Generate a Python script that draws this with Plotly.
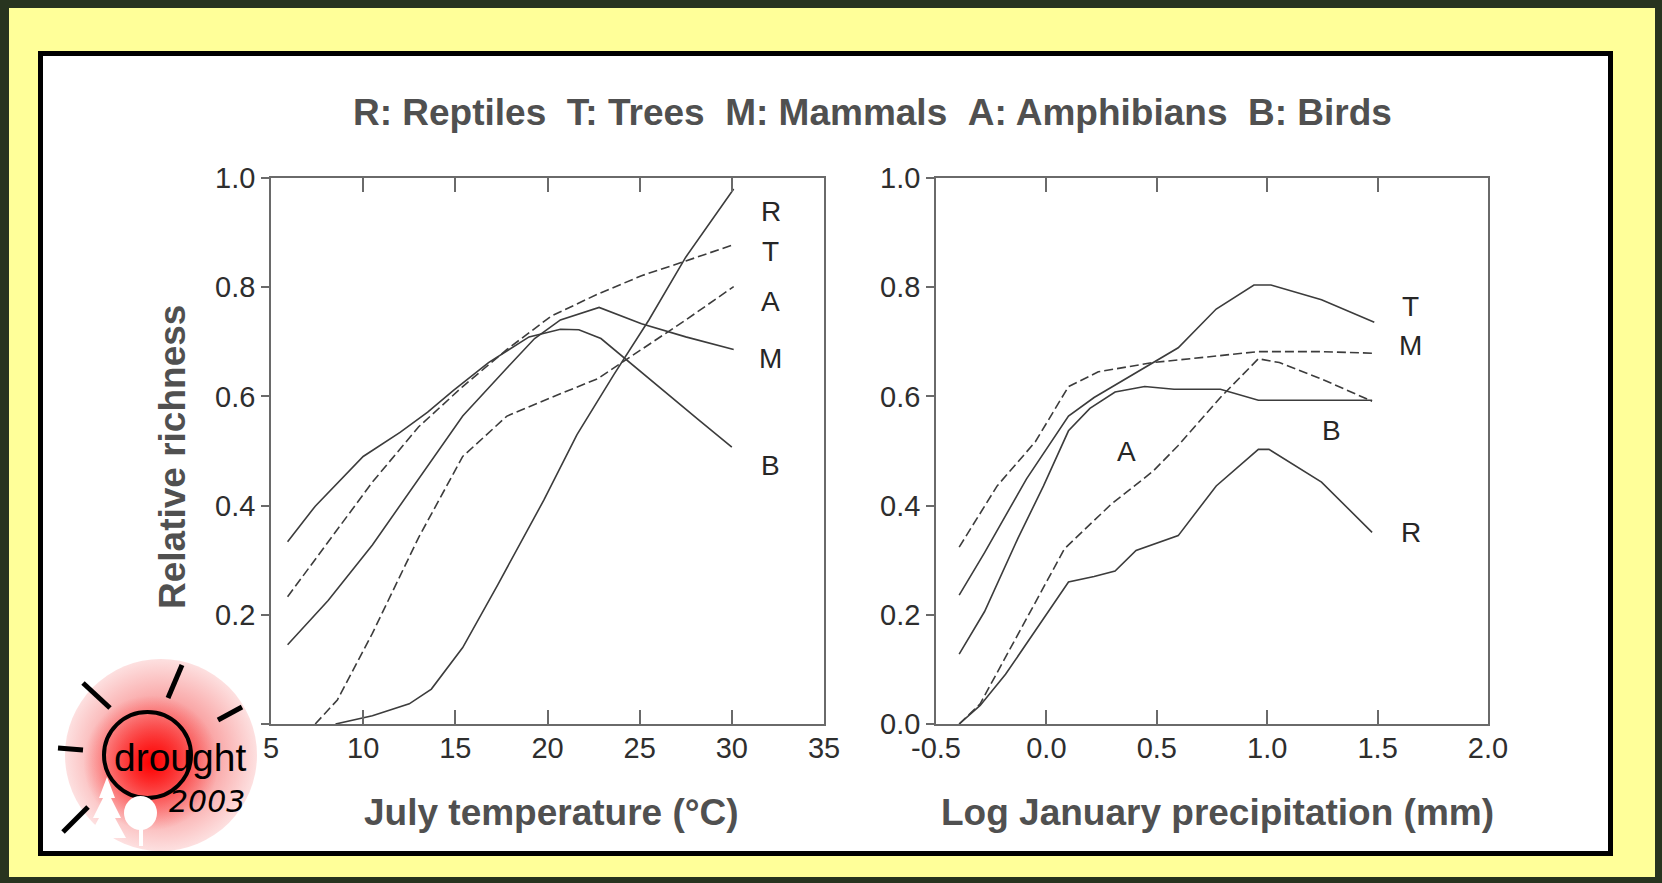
import plotly.graph_objects as go

W, H = 1662, 883

# ---------------- data: left panel (July temperature, °C) ----------------
temp_R_x = [8.5, 10.5, 12.5, 13.7, 15.4, 17.3, 19.8, 21.6, 23.6, 25.5, 27.5, 30.1]
temp_R_y = [0.0, 0.015, 0.037, 0.064, 0.14, 0.255, 0.41, 0.53, 0.64, 0.74, 0.855, 0.98]

temp_B_x = [5.9, 7.4, 10.0, 12.0, 13.5, 14.9, 16.8, 19.0, 20.7, 21.7, 22.9, 24.1, 26.3, 28.2, 30.0]
temp_B_y = [0.334, 0.399, 0.49, 0.534, 0.571, 0.611, 0.662, 0.709, 0.723, 0.722, 0.706, 0.672, 0.611, 0.557, 0.507]

temp_M_x = [5.9, 8.1, 10.5, 13.0, 15.4, 17.8, 19.3, 20.7, 22.8, 25.1, 27.5, 30.1]
temp_M_y = [0.145, 0.226, 0.328, 0.449, 0.564, 0.652, 0.706, 0.74, 0.763, 0.733, 0.709, 0.686]

temp_T_x = [5.9, 8.1, 10.5, 13.0, 15.4, 17.8, 20.2, 22.7, 25.1, 27.5, 30.1]
temp_T_y = [0.233, 0.334, 0.443, 0.544, 0.618, 0.686, 0.747, 0.787, 0.821, 0.848, 0.878]

temp_A_x = [7.4, 8.6, 10.5, 13.0, 15.4, 17.8, 20.2, 22.7, 25.1, 27.5, 30.1]
temp_A_y = [0.0, 0.044, 0.166, 0.341, 0.49, 0.564, 0.598, 0.632, 0.686, 0.74, 0.801]

temp_labels = ["R", "T", "A", "M", "B"]
temp_label_x = [32.1, 32.1, 32.1, 32.1, 32.1]
temp_label_y = [0.939, 0.865, 0.774, 0.669, 0.473]

temp_ticks = [5, 10, 15, 20, 25, 30, 35]
temp_ticktext = ["5", "10", "15", "20", "25", "30", "35"]

# ---------------- data: right panel (log January precipitation) ----------------
prec_T_x = [-0.395, -0.28, -0.09, 0.10, 0.216, 0.483, 0.597, 0.769, 0.94, 1.017, 1.246, 1.485]
prec_T_y = [0.236, 0.314, 0.449, 0.564, 0.598, 0.662, 0.689, 0.76, 0.804, 0.804, 0.777, 0.736]

prec_M_x = [-0.395, -0.223, -0.05, 0.10, 0.235, 0.483, 0.96, 1.246, 1.485]
prec_M_y = [0.324, 0.436, 0.517, 0.618, 0.645, 0.662, 0.682, 0.682, 0.679]

prec_B_x = [-0.395, -0.28, -0.128, -0.013, 0.10, 0.197, 0.311, 0.445, 0.578, 0.788, 0.96, 1.475]
prec_B_y = [0.128, 0.206, 0.341, 0.436, 0.537, 0.578, 0.608, 0.618, 0.613, 0.613, 0.593, 0.593]

prec_A_x = [-0.395, -0.3, -0.09, 0.082, 0.292, 0.483, 0.597, 0.788, 0.96, 1.055, 1.246, 1.475]
prec_A_y = [0.0, 0.037, 0.193, 0.321, 0.402, 0.463, 0.51, 0.598, 0.669, 0.662, 0.632, 0.591]

prec_R_x = [-0.395, -0.3, -0.185, -0.05, 0.10, 0.216, 0.311, 0.406, 0.597, 0.769, 0.96, 1.008, 1.246, 1.475]
prec_R_y = [0.0, 0.034, 0.091, 0.172, 0.26, 0.27, 0.28, 0.318, 0.345, 0.436, 0.503, 0.503, 0.443, 0.351]

prec_labels = ["T", "M", "B", "A", "R"]
prec_label_x = [1.65, 1.65, 1.293, 0.362, 1.65]
prec_label_y = [0.764, 0.693, 0.537, 0.5, 0.351]

prec_ticks = [-0.5, 0.0, 0.5, 1.0, 1.5, 2.0]
prec_ticktext = ["-0.5", "0.0", "0.5", "1.0", "1.5", "2.0"]

rich_ticks = [0.0, 0.2, 0.4, 0.6, 0.8, 1.0]
rich_ticktext_left = ["", "0.2", "0.4", "0.6", "0.8", "1.0"]
rich_ticktext_right = ["0.0", "0.2", "0.4", "0.6", "0.8", "1.0"]

TITLE = "R: Reptiles\u00a0\u00a0T: Trees\u00a0\u00a0M: Mammals\u00a0\u00a0A: Amphibians\u00a0\u00a0B: Birds"
XTITLE_L = "July temperature (°C)"
XTITLE_R = "Log January precipitation (mm)"
YTITLE = "Relative richness"

# ---------------- styling ----------------
LINE = "#3c3c3c"
AXIS = "#6a6a6a"
TICKFONT = dict(family="Liberation Sans, Arial, sans-serif", size=29, color="#2e2e2e")
TITLEFONT = dict(family="Liberation Sans, Arial, sans-serif", size=37, color="#505050", weight="bold")
LABELFONT = dict(family="Liberation Sans, Arial, sans-serif", size=28, color="#262626")
DASH = "9px,4px"

fig = go.Figure()


def add_line(x, y, xa, ya, dashed):
    fig.add_trace(go.Scatter(
        x=x, y=y, xaxis=xa, yaxis=ya, mode="lines",
        line=dict(color=LINE, width=1.6, dash=DASH if dashed else "solid"),
        hoverinfo="skip", showlegend=False))


add_line(temp_R_x, temp_R_y, "x", "y", False)
add_line(temp_B_x, temp_B_y, "x", "y", False)
add_line(temp_M_x, temp_M_y, "x", "y", False)
add_line(temp_T_x, temp_T_y, "x", "y", True)
add_line(temp_A_x, temp_A_y, "x", "y", True)

add_line(prec_T_x, prec_T_y, "x2", "y2", False)
add_line(prec_M_x, prec_M_y, "x2", "y2", True)
add_line(prec_B_x, prec_B_y, "x2", "y2", False)
add_line(prec_A_x, prec_A_y, "x2", "y2", True)
add_line(prec_R_x, prec_R_y, "x2", "y2", False)

# logo glow (pale outer disc + red core) on a pixel-space helper axis
fig.add_trace(go.Scatter(
    x=[161], y=[755], xaxis="x5", yaxis="y5", mode="markers",
    marker=dict(size=192, color="#fde0e0", line=dict(width=0),
                gradient=dict(type="radial", color="#f55a5a")),
    hoverinfo="skip", showlegend=False))
fig.add_trace(go.Scatter(
    x=[151], y=[763], xaxis="x5", yaxis="y5", mode="markers",
    marker=dict(size=135, color="rgba(255,30,30,0)", line=dict(width=0),
                gradient=dict(type="radial", color="rgba(255,0,0,1)")),
    hoverinfo="skip", showlegend=False))

Y0 = (H - 724) / H
Y1 = (H - 178) / H

common_x = dict(showgrid=False, zeroline=False, showline=True, linecolor=AXIS, linewidth=1.5,
                ticks="inside", ticklen=14, tickwidth=1.5, tickcolor=AXIS, mirror="ticks",
                tickfont=TICKFONT, ticklabelstandoff=-3, automargin=False)
common_y = dict(showgrid=False, zeroline=False, showline=True, linecolor=AXIS, linewidth=1.5,
                ticks="outside", ticklen=8, tickwidth=1.5, tickcolor=AXIS, mirror=True,
                tickfont=TICKFONT, range=[0, 1], tickvals=rich_ticks, automargin=False)
common_yr = dict(showgrid=False, zeroline=False, showline=False, ticks="inside", ticklen=15,
                 tickwidth=1.5, tickcolor=AXIS, showticklabels=False, side="right",
                 range=[0, 1], tickvals=rich_ticks, automargin=False)

fig.update_layout(
    template="none",
    width=W, height=H, autosize=False,
    margin=dict(l=0, r=0, t=0, b=0, pad=0, autoexpand=False),
    paper_bgcolor="#28341f",
    plot_bgcolor="rgba(0,0,0,0)",
    showlegend=False,
    xaxis=dict(common_x, domain=[271 / W, 824 / W], range=[5, 35], anchor="y",
               tickvals=temp_ticks, ticktext=temp_ticktext),
    yaxis=dict(common_y, domain=[Y0, Y1], anchor="x", ticktext=rich_ticktext_left),
    yaxis3=dict(common_yr, overlaying="y", anchor="x"),
    xaxis2=dict(common_x, domain=[936 / W, 1488 / W], range=[-0.5, 2.0], anchor="y2",
                tickvals=prec_ticks, ticktext=prec_ticktext),
    yaxis2=dict(common_y, domain=[Y0, Y1], anchor="x2", ticktext=rich_ticktext_right),
    yaxis4=dict(common_yr, overlaying="y2", anchor="x2"),
    xaxis5=dict(domain=[0, 1], range=[0, W], visible=False, anchor="y5", fixedrange=True,
                automargin=False),
    yaxis5=dict(domain=[0, 1], range=[H, 0], visible=False, anchor="x5", fixedrange=True,
                automargin=False),
)

shapes = [
    # yellow frame
    dict(type="rect", xref="paper", yref="paper", x0=9 / W, x1=1655 / W,
         y0=1 - 877 / H, y1=1 - 8 / H, fillcolor="#ffff99", line=dict(width=0), layer="below"),
    # white panel with black border
    dict(type="rect", xref="paper", yref="paper", x0=40.5 / W, x1=1610.5 / W,
         y0=1 - 853.5 / H, y1=1 - 53.5 / H, fillcolor="white",
         line=dict(color="black", width=5), layer="below"),
]

# logo: sun ring, rays, trees (pixel-space helper axis)
ray_segments = [((83, 683), (110, 708)), ((182, 665), (168, 698)), ((218, 720), (242, 707)),
                ((58, 748), (83, 750)), ((63, 832), (88, 807))]
for (xa, ya), (xb, yb) in ray_segments:
    shapes.append(dict(type="line", xref="x5", yref="y5", x0=xa, y0=ya, x1=xb, y1=yb,
                       line=dict(color="black", width=5), layer="above"))
shapes.append(dict(type="circle", xref="x5", yref="y5", x0=104, x1=191, y0=712, y1=798,
                   line=dict(color="black", width=4), layer="above"))
shapes.append(dict(type="path", xref="x5", yref="y5",
                   path="M 107 777 L 99 798 L 103 798 L 93 818 L 99 818 L 88 838 L 105 838 "
                        "L 105 846 L 109 846 L 109 838 L 126 838 L 115 818 L 121 818 "
                        "L 111 798 L 115 798 Z",
                   fillcolor="white", line=dict(width=0), layer="above"))
shapes.append(dict(type="circle", xref="x5", yref="y5", x0=124, x1=157, y0=796, y1=830,
                   fillcolor="white", line=dict(width=0), layer="above"))
shapes.append(dict(type="rect", xref="x5", yref="y5", x0=139, x1=143, y0=826, y1=846,
                   fillcolor="white", line=dict(width=0), layer="above"))
fig.update_layout(shapes=shapes)

ann = []
# curve labels
for t, x, y in zip(temp_labels, temp_label_x, temp_label_y):
    ann.append(dict(text=t, x=x, y=y, xref="x", yref="y", showarrow=False, font=LABELFONT,
                    xanchor="center", yanchor="middle"))
for t, x, y in zip(prec_labels, prec_label_x, prec_label_y):
    ann.append(dict(text=t, x=x, y=y, xref="x2", yref="y2", showarrow=False, font=LABELFONT,
                    xanchor="center", yanchor="middle"))
# titles
ann.append(dict(text=TITLE, x=872.5 / W, y=1 - 113 / H, xref="paper", yref="paper",
                showarrow=False, font=TITLEFONT, xanchor="center", yanchor="middle"))
ann.append(dict(text=XTITLE_L, x=551.5 / W, y=1 - 812 / H, xref="paper", yref="paper",
                showarrow=False, font=TITLEFONT, xanchor="center", yanchor="middle"))
ann.append(dict(text=XTITLE_R, x=1217 / W, y=1 - 812 / H, xref="paper", yref="paper",
                showarrow=False, font=TITLEFONT, xanchor="center", yanchor="middle"))
ann.append(dict(text=YTITLE, x=172 / W, y=1 - 457 / H, xref="paper", yref="paper",
                showarrow=False, font=TITLEFONT, textangle=-90, xanchor="center", yanchor="middle"))
# logo text
ann.append(dict(text="drought", x=180 / W, y=1 - 757 / H, xref="paper", yref="paper",
                showarrow=False, xanchor="center", yanchor="middle",
                font=dict(family="Liberation Sans, Arial, sans-serif", size=39, color="black")))
ann.append(dict(text="2003", x=207 / W, y=1 - 801 / H, xref="paper", yref="paper",
                showarrow=False, xanchor="center", yanchor="middle",
                font=dict(family="DejaVu Sans, sans-serif", size=30, color="black", style="italic")))
fig.update_layout(annotations=ann)

fig.write_html("out.html")
